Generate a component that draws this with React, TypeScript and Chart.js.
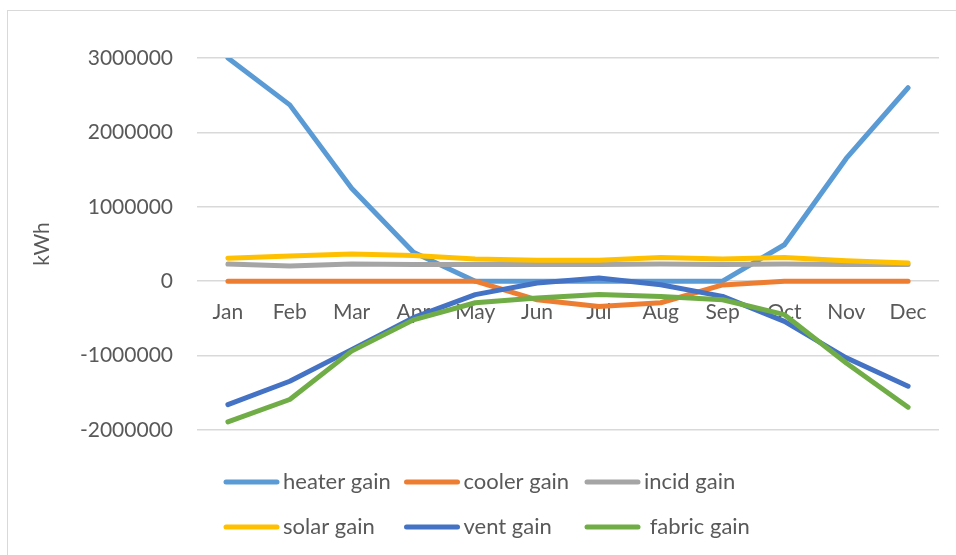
import React, { useEffect, useRef } from "react";
import { Chart, registerables } from "chart.js";

Chart.register(...registerables);

const months = ["Jan", "Feb", "Mar", "Apr", "May", "Jun", "Jul", "Aug", "Sep", "Oct", "Nov", "Dec"];
const yTickValues = [-2000000, -1000000, 0, 1000000, 2000000, 3000000];

const heaterGain = [3000000, 2370000, 1250000, 390000, 0, 0, 0, 0, 0, 490000, 1650000, 2600000];
const coolerGain = [0, 0, 0, 0, 0, -250000, -340000, -290000, -50000, 0, 0, 0];
const incidGain = [230000, 205000, 230000, 225000, 225000, 225000, 225000, 230000, 225000, 230000, 225000, 225000];
const solarGain = [310000, 340000, 365000, 345000, 300000, 280000, 280000, 320000, 300000, 320000, 275000, 245000];
const ventGain = [-1660000, -1345000, -920000, -490000, -180000, -25000, 43000, -47000, -204000, -540000, -1030000, -1412000];
const fabricGain = [-1890000, -1590000, -940000, -520000, -290000, -225000, -180000, -205000, -250000, -450000, -1100000, -1694000];

const seriesNames = ["heater gain", "cooler gain", "incid gain", "solar gain", "vent gain", " fabric gain"];
const seriesColors = ["#5B9BD5", "#ED7D31", "#A5A5A5", "#FFC000", "#4472C4", "#70AD47"];
const seriesData = [heaterGain, coolerGain, incidGain, solarGain, ventGain, fabricGain];

const FONT = "Lato, 'Open Sans', sans-serif";
const TEXT = "#595959";

const legendPlugin = {
  id: "gridLegend",
  afterDraw(chart: any) {
    const ctx = chart.ctx;
    const area = chart.chartArea;
    const startX = 224;
    const colW = 180.5;
    const rowY = [area.bottom + 52, area.bottom + 97];
    ctx.save();
    ctx.font = `22px ${FONT}`;
    ctx.textBaseline = "middle";
    ctx.textAlign = "left";
    chart.data.datasets.forEach((ds: any, i: number) => {
      const col = i % 3;
      const row = Math.floor(i / 3);
      const x = startX + col * colW;
      const y = rowY[row];
      ctx.strokeStyle = ds.borderColor;
      ctx.lineWidth = 5;
      ctx.lineCap = "round";
      ctx.beginPath();
      ctx.moveTo(x + 2, y);
      ctx.lineTo(x + 53, y);
      ctx.stroke();
      ctx.fillStyle = TEXT;
      ctx.fillText(ds.label, x + 59, y);
    });
    ctx.restore();
  },
};

export default function App() {
  const ref = useRef<HTMLCanvasElement>(null);
  useEffect(() => {
    if (!ref.current) return;
    const n = seriesNames.length;
    const chart = new Chart(ref.current, {
      type: "line",
      data: {
        labels: months,
        datasets: seriesNames.map((name, i) => ({
          label: name,
          data: seriesData[i],
          borderColor: seriesColors[i],
          backgroundColor: seriesColors[i],
          borderWidth: 5,
          borderCapStyle: "round" as const,
          borderJoinStyle: "round" as const,
          pointRadius: 0,
          tension: 0,
          order: n - 1 - i,
        })),
      },
      options: {
        animation: false,
        responsive: true,
        maintainAspectRatio: false,
        layout: { padding: { left: 20, right: 17, top: 58, bottom: 125 } },
        plugins: {
          legend: { display: false },
          tooltip: { enabled: false },
        },
        scales: {
          x: {
            type: "category",
            position: { y: 0 } as any,
            offset: true,
            grid: { display: false, drawTicks: false },
            border: { display: false },
            ticks: {
              color: TEXT,
              font: { family: FONT, size: 21 },
              padding: 18,
              maxRotation: 0,
              autoSkip: false,
            },
          },
          y: {
            type: "linear",
            min: -2000000,
            max: 3000000,
            afterBuildTicks: (scale: any) => {
              scale.ticks = yTickValues.map((v) => ({ value: v }));
            },
            afterFit: (scale: any) => {
              scale.width = 177;
            },
            grid: { color: "#D9D9D9", lineWidth: 1.5, drawTicks: false },
            border: { display: false },
            ticks: {
              color: TEXT,
              font: { family: FONT, size: 21 },
              padding: 24,
              callback: (v: any) => String(v),
            },
            title: {
              display: true,
              text: "kWh",
              color: TEXT,
              font: { family: FONT, size: 21 },
              padding: { top: 10, bottom: 0 },
            },
          },
        },
      },
      plugins: [legendPlugin],
    });
    return () => chart.destroy();
  }, []);

  return (
    <div style={{ position: "fixed", left: 0, top: 0, width: 956, height: 555, background: "#fff", overflow: "hidden" }}>
      <div
        style={{
          position: "absolute",
          left: 7,
          top: 10,
          right: -2,
          bottom: -2,
          border: "1.5px solid #D9D9D9",
        }}
      />
      <div style={{ position: "absolute", left: 0, top: 0, width: 956, height: 555 }}>
        <canvas ref={ref} />
      </div>
    </div>
  );
}
